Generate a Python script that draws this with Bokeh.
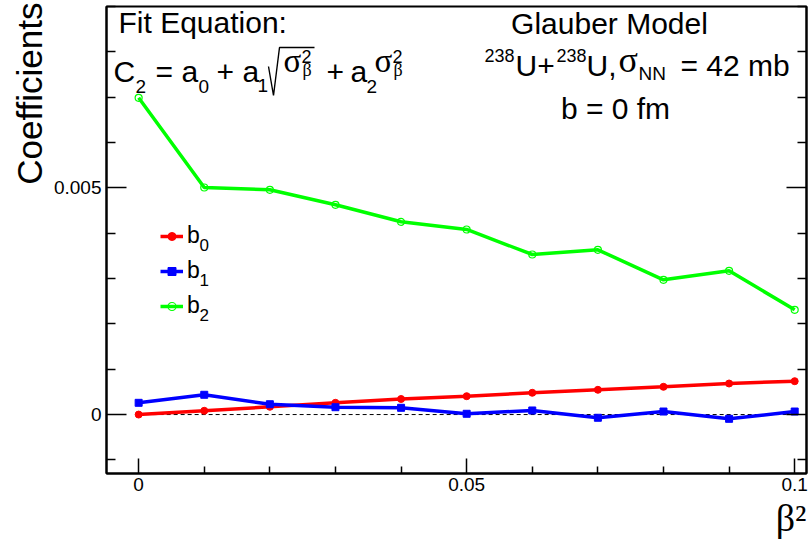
import math
from bokeh.plotting import figure
from bokeh.models import Range1d, LinearAxis, FixedTicker, Label, Legend, LegendItem, Title
from bokeh.core.properties import value
from bokeh.embed import file_html
from bokeh.resources import INLINE

# ---------------- data ----------------
BETA2 = [0.0, 0.01, 0.02, 0.03, 0.04, 0.05, 0.06, 0.07, 0.08, 0.09, 0.10]
B0 = [0.0, 0.000083, 0.000171, 0.000259, 0.000343, 0.000405, 0.000480, 0.000546, 0.000612, 0.000685, 0.000736]
B1 = [0.000259, 0.000436, 0.000228, 0.000162, 0.000149, 0.000017, 0.000090, -0.000071, 0.000067, -0.000094, 0.000067]
B2 = [0.006986, 0.005008, 0.004957, 0.004626, 0.004251, 0.004082, 0.003530, 0.003634, 0.002972, 0.003171, 0.002311]
SERIES_BASE = ["b", "b", "b"]
SERIES_SUB = ["0", "1", "2"]
X_TICKS = [0, 0.05, 0.1]
X_TICK_LABELS = ["0", "0.05", "0.1"]
X_MINOR = [0.01, 0.02, 0.03, 0.04, 0.06, 0.07, 0.08, 0.09]
Y_TICKS = [0, 0.005]
Y_TICK_LABELS = ["0", "0.005"]
Y_MINOR = [-0.001, 0.001, 0.002, 0.003, 0.004, 0.006, 0.007, 0.008, 0.009]
X_TITLE = "\u03b2\u00b2"
Y_TITLE = "Coefficients"

# ---------------- geometry ----------------
W, H = 808, 547
FL, FR, FT, FB = 106, 806, 6, 473
XR = (-0.0049, 0.1018)
YR = (-0.0013, 0.009)

def dx(px):
    return XR[0] + (px - FL) * (XR[1] - XR[0]) / (FR - FL)

def dy(py):
    return YR[0] + (FB - py) * (YR[1] - YR[0]) / (FB - FT)

SANS = "Liberation Sans"
SERIF = "Liberation Serif"

p = figure(width=W, height=H, x_range=Range1d(*XR), y_range=Range1d(*YR),
           output_backend="svg", toolbar_location=None,
           min_border_left=FL, min_border_right=W - FR,
           min_border_top=FT, min_border_bottom=H - FB)
p.xgrid.visible = False
p.ygrid.visible = False
p.outline_line_color = "black"
p.outline_line_width = 2
p.background_fill_color = "white"
p.border_fill_color = "white"

def style_axis(ax, maj_in, min_in):
    ax.axis_line_color = "black"
    ax.axis_line_width = 2
    ax.major_tick_in = maj_in
    ax.major_tick_out = 0
    ax.minor_tick_in = min_in
    ax.minor_tick_out = 0
    ax.major_tick_line_color = "black"
    ax.minor_tick_line_color = "black"
    ax.major_tick_line_width = 1.5
    ax.minor_tick_line_width = 1.5
    ax.major_label_text_font = SANS
    ax.major_label_text_font_size = "19px"
    ax.major_label_text_color = "black"

xa = p.xaxis[0]
xa.ticker = FixedTicker(ticks=X_TICKS, minor_ticks=X_MINOR)
xa.major_label_overrides = dict(zip(X_TICKS, X_TICK_LABELS))
style_axis(xa, 15, 7)
xa.major_label_standoff = 4

ya = p.yaxis[0]
ya.ticker = FixedTicker(ticks=Y_TICKS, minor_ticks=Y_MINOR)
ya.major_label_overrides = dict(zip(Y_TICKS, Y_TICK_LABELS))
style_axis(ya, 20, 9)
ya.major_label_standoff = 5

ra = LinearAxis(ticker=FixedTicker(ticks=Y_TICKS, minor_ticks=Y_MINOR),
                major_label_overrides={t: "" for t in Y_TICKS})
style_axis(ra, 20, 9)
ra.major_label_standoff = 0
ra.major_label_text_font_size = "1px"
p.add_layout(ra, "right")

# axis titles (ROOT style: at the far end of each axis)
p.add_layout(Title(text=Y_TITLE, align="right", text_font=SANS, text_font_size="35px",
                   text_font_style="normal", text_color="black", standoff=4, offset=-4), "left")
p.add_layout(Title(text=X_TITLE, align="right", text_font=SERIF, text_font_size="38px",
                   text_font_style="normal", text_color="black", standoff=3, offset=0), "below")

# zero reference line
p.line([BETA2[0], BETA2[-1]], [0, 0], line_color="black", line_width=1, line_dash="4 3")

# series
l0 = p.line(BETA2, B0, line_color="#ff0000", line_width=3.5)
s0 = p.scatter(BETA2, B0, marker="circle", size=7, fill_color="#ff0000", line_color="#ff0000")
l1 = p.line(BETA2, B1, line_color="#0000ff", line_width=3.5)
s1 = p.scatter(BETA2, B1, marker="square", size=7, fill_color="#0000ff", line_color="#0000ff")
l2 = p.line(BETA2, B2, line_color="#00ff00", line_width=3.5)
s2 = p.scatter(BETA2, B2, marker="circle", size=7, fill_alpha=0, line_color="#00ff00", line_width=1.2)

legend = Legend(items=[LegendItem(label=value(SERIES_BASE[0]), renderers=[l0, s0]),
                       LegendItem(label=value(SERIES_BASE[1]), renderers=[l1, s1]),
                       LegendItem(label=value(SERIES_BASE[2]), renderers=[l2, s2])],
                location=(54, 150), orientation="vertical",
                glyph_width=23, glyph_height=20, label_height=35, label_standoff=4,
                spacing=0, padding=0, margin=0, border_line_color=None,
                background_fill_alpha=0, label_text_font=SANS,
                label_text_font_size="23px", label_text_color="black")
p.add_layout(legend)

BASE_SHIFT = 0.33  # empirical correction of the alphabetic baseline (in em)

def txt(s, px, py, size, font=SANS, align="left"):
    p.add_layout(Label(x=dx(px), y=dy(py - BASE_SHIFT * size), text=s, text_font=font,
                       text_font_size=f"{size}px", text_align=align,
                       text_baseline="alphabetic", text_color="black"))

# legend subscripts
for sub, py in zip(SERIES_SUB, [250, 285, 320]):
    txt(sub, 199, py, 17)

# fit equation
txt("Fit Equation:", 118, 32, 30)
txt("C", 113, 81, 30)
txt("2", 135, 92, 19)
txt("=", 155, 81, 30)
txt("a", 181, 81, 30)
txt("0", 198, 92, 19)
txt("+", 216, 81, 30)
txt("a", 242, 81, 30)
txt("1", 257, 91, 19)
p.line([dx(268), dx(273), dx(279), dx(314)], [dy(66), dy(95), dy(47), dy(47)],
       line_color="black", line_width=1.4)
txt("\u03c3", 283, 71, 33, font=SERIF)
txt("2", 301, 62, 18)
txt("\u03b2", 302, 75, 18, font=SERIF)
txt("+", 326, 81, 30)
txt("a", 350, 81, 30)
txt("2", 366, 92, 19)
txt("\u03c3", 374, 71, 33, font=SERIF)
txt("2", 392, 62, 18)
txt("\u03b2", 393, 75, 18, font=SERIF)

# model info
txt("Glauber Model", 609, 33, 30, align="center")
txt("238", 484, 61, 18)
txt("U+", 515, 75, 30)
txt("238", 556, 61, 18)
txt("U,", 586, 75, 30)
txt("\u03c3", 618, 71, 36, font=SERIF)
txt("NN", 638, 79, 19)
txt("= 42 mb", 680, 75, 30)
txt("b = 0 fm", 615, 118, 30, align="center")

open("out.html", "w").write(file_html(p, INLINE))
